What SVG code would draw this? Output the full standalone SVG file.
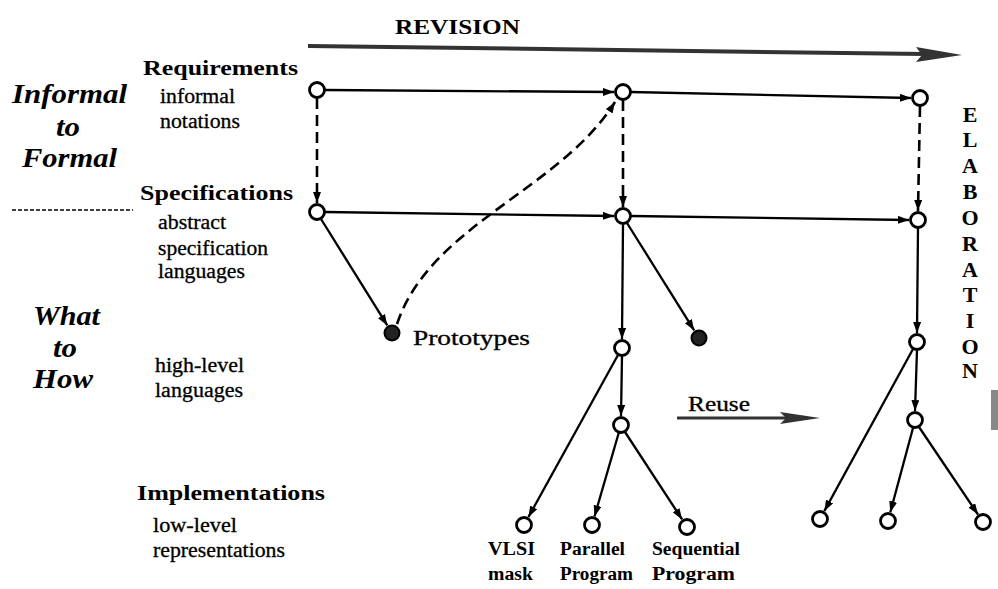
<svg xmlns="http://www.w3.org/2000/svg" width="998" height="589" viewBox="0 0 998 589">
<defs>
<marker id="ah" markerUnits="userSpaceOnUse" markerWidth="11" markerHeight="8" refX="11" refY="4" orient="auto">
<path d="M0,0 L11,4 L0,8 z" fill="#000"/>
</marker>
<style>
.hd{font-family:"Liberation Serif",serif;font-weight:bold;font-size:22px;fill:#000}
.sb{font-family:"Liberation Serif",serif;font-size:20px;fill:#000;stroke:#000;stroke-width:0.3}
.it{font-family:"Liberation Serif",serif;font-weight:bold;font-style:italic;font-size:27px;fill:#000}
.lf{font-family:"Liberation Serif",serif;font-weight:bold;font-size:18px;fill:#000}
.el{font-family:"Liberation Serif",serif;font-weight:bold;font-size:22px;fill:#000;text-anchor:middle}
.nd{fill:#fff;stroke:#000;stroke-width:2.8}
.nf{fill:#222;stroke:#000;stroke-width:2}
.ln{fill:none;stroke:#000;stroke-width:2.3;marker-end:url(#ah)}
.ds{fill:none;stroke:#000;stroke-width:2.6;stroke-dasharray:11 6;marker-end:url(#ah)}
</style>
</defs>
<rect width="998" height="589" fill="#fff"/>

<g id="labels">
<text class="hd" x="395" y="34" textLength="125" lengthAdjust="spacingAndGlyphs">REVISION</text>
<text class="hd" x="143" y="75" textLength="155" lengthAdjust="spacingAndGlyphs">Requirements</text>
<text class="sb" x="160" y="103" textLength="75" lengthAdjust="spacingAndGlyphs">informal</text>
<text class="sb" x="160" y="128" textLength="80" lengthAdjust="spacingAndGlyphs">notations</text>
<text class="it" x="12" y="103" textLength="115" lengthAdjust="spacingAndGlyphs">Informal</text>
<text class="it" x="56" y="136" textLength="24" lengthAdjust="spacingAndGlyphs">to</text>
<text class="it" x="22" y="167" textLength="95" lengthAdjust="spacingAndGlyphs">Formal</text>
<text class="hd" x="140" y="200" textLength="153" lengthAdjust="spacingAndGlyphs">Specifications</text>
<text class="sb" x="158" y="229" textLength="68" lengthAdjust="spacingAndGlyphs">abstract</text>
<text class="sb" x="158" y="255" textLength="110" lengthAdjust="spacingAndGlyphs">specification</text>
<text class="sb" x="158" y="278" textLength="87" lengthAdjust="spacingAndGlyphs">languages</text>
<text class="it" x="33" y="325" textLength="67" lengthAdjust="spacingAndGlyphs">What</text>
<text class="it" x="53" y="357" textLength="24" lengthAdjust="spacingAndGlyphs">to</text>
<text class="it" x="33" y="388" textLength="60" lengthAdjust="spacingAndGlyphs">How</text>
<text class="sb" x="155" y="372" textLength="89" lengthAdjust="spacingAndGlyphs">high-level</text>
<text class="sb" x="155" y="397" textLength="88" lengthAdjust="spacingAndGlyphs">languages</text>
<text class="hd" x="137" y="500" textLength="188" lengthAdjust="spacingAndGlyphs">Implementations</text>
<text class="sb" x="153" y="532" textLength="84" lengthAdjust="spacingAndGlyphs">low-level</text>
<text class="sb" x="153" y="557" textLength="132" lengthAdjust="spacingAndGlyphs">representations</text>
<text class="sb" x="413" y="345" font-size="23" textLength="117" lengthAdjust="spacingAndGlyphs">Prototypes</text>
<text class="sb" x="688" y="411" textLength="62" lengthAdjust="spacingAndGlyphs">Reuse</text>
<text class="lf" x="488" y="555" textLength="47" lengthAdjust="spacingAndGlyphs">VLSI</text>
<text class="lf" x="488" y="580" textLength="45" lengthAdjust="spacingAndGlyphs">mask</text>
<text class="lf" x="560" y="555" textLength="65" lengthAdjust="spacingAndGlyphs">Parallel</text>
<text class="lf" x="560" y="580" textLength="73" lengthAdjust="spacingAndGlyphs">Program</text>
<text class="lf" x="652" y="555" textLength="88" lengthAdjust="spacingAndGlyphs">Sequential</text>
<text class="lf" x="652" y="580" textLength="83" lengthAdjust="spacingAndGlyphs">Program</text>
<text class="el" x="970" y="122">E</text>
<text class="el" x="970" y="147">L</text>
<text class="el" x="970" y="173">A</text>
<text class="el" x="970" y="199">B</text>
<text class="el" x="970" y="225">O</text>
<text class="el" x="970" y="251">R</text>
<text class="el" x="970" y="277">A</text>
<text class="el" x="970" y="302">T</text>
<text class="el" x="970" y="328">I</text>
<text class="el" x="970" y="354">O</text>
<text class="el" x="970" y="378">N</text>
</g>

<g id="decor">
<line x1="12" y1="210" x2="133" y2="210" stroke="#000" stroke-width="1.5" stroke-dasharray="4 2"/>
<line x1="308" y1="46" x2="925" y2="54" stroke="#333" stroke-width="4"/>
<polygon points="916,47 962,55 916,62 922,55" fill="#333"/>
<line x1="677" y1="418" x2="790" y2="418" stroke="#333" stroke-width="3"/>
<polygon points="780,412 820,418 780,424 786,418" fill="#333"/>
<rect x="991" y="390" width="7" height="40" fill="#888"/>
</g>

<g id="connectors">
<line class="ln" x1="325" y1="90" x2="614" y2="92"/>
<line class="ln" x1="631" y1="92" x2="911" y2="98"/>
<line class="ds" x1="317" y1="98" x2="317" y2="203"/>
<line class="ds" x1="623" y1="100" x2="623" y2="207"/>
<line class="ds" x1="920" y1="106" x2="918" y2="211"/>
<line class="ln" x1="325" y1="212" x2="614" y2="216"/>
<line class="ln" x1="631" y1="216" x2="909" y2="220"/>
<line class="ln" x1="321" y1="219" x2="387.3" y2="325.4"/>
<path class="ds" d="M397,324 C430,225 560,190 615,102"/>
<line class="ln" x1="623" y1="224" x2="622" y2="339"/>
<line class="ln" x1="627" y1="223" x2="694.2" y2="330.4"/>
<line class="ln" x1="622" y1="356" x2="621" y2="416"/>
<line class="ln" x1="618" y1="355" x2="528.4" y2="517.1"/>
<line class="ln" x1="619" y1="432" x2="594.5" y2="516.4"/>
<line class="ln" x1="625" y1="432" x2="682.1" y2="519.4"/>
<line class="ln" x1="918" y1="228" x2="917" y2="333"/>
<line class="ln" x1="917" y1="350" x2="915" y2="411"/>
<line class="ln" x1="913" y1="349" x2="824.3" y2="511.1"/>
<line class="ln" x1="913" y1="428" x2="890.3" y2="512.3"/>
<line class="ln" x1="919" y1="427" x2="978" y2="514.5"/>
</g>

<g id="n-req"><circle class="nd" cx="317" cy="90" r="7.5"/></g>
<g id="n-mid-top"><circle class="nd" cx="623" cy="92" r="7.5"/></g>
<g id="n-right-top"><circle class="nd" cx="920" cy="98" r="7.5"/></g>
<g id="n-spec"><circle class="nd" cx="317" cy="212" r="7.5"/></g>
<g id="n-mid-spec"><circle class="nd" cx="623" cy="216" r="7.5"/></g>
<g id="n-right-spec"><circle class="nd" cx="918" cy="220" r="7.5"/></g>
<g id="n-proto1"><circle class="nf" cx="392" cy="333" r="7.5"/></g>
<g id="n-proto2"><circle class="nf" cx="699" cy="338" r="7.5"/></g>
<g id="n-mid-hl"><circle class="nd" cx="622" cy="348" r="7.5"/></g>
<g id="n-mid-hl2"><circle class="nd" cx="621" cy="425" r="7.5"/></g>
<g id="n-vlsi"><circle class="nd" cx="524" cy="525" r="7.5"/></g>
<g id="n-parallel"><circle class="nd" cx="592" cy="525" r="7.5"/></g>
<g id="n-sequential"><circle class="nd" cx="687" cy="527" r="7.5"/></g>
<g id="n-right-hl"><circle class="nd" cx="917" cy="342" r="7.5"/></g>
<g id="n-right-hl2"><circle class="nd" cx="915" cy="420" r="7.5"/></g>
<g id="n-leaf1"><circle class="nd" cx="820" cy="519" r="7.5"/></g>
<g id="n-leaf2"><circle class="nd" cx="888" cy="521" r="7.5"/></g>
<g id="n-leaf3"><circle class="nd" cx="983" cy="522" r="7.5"/></g>
</svg>
